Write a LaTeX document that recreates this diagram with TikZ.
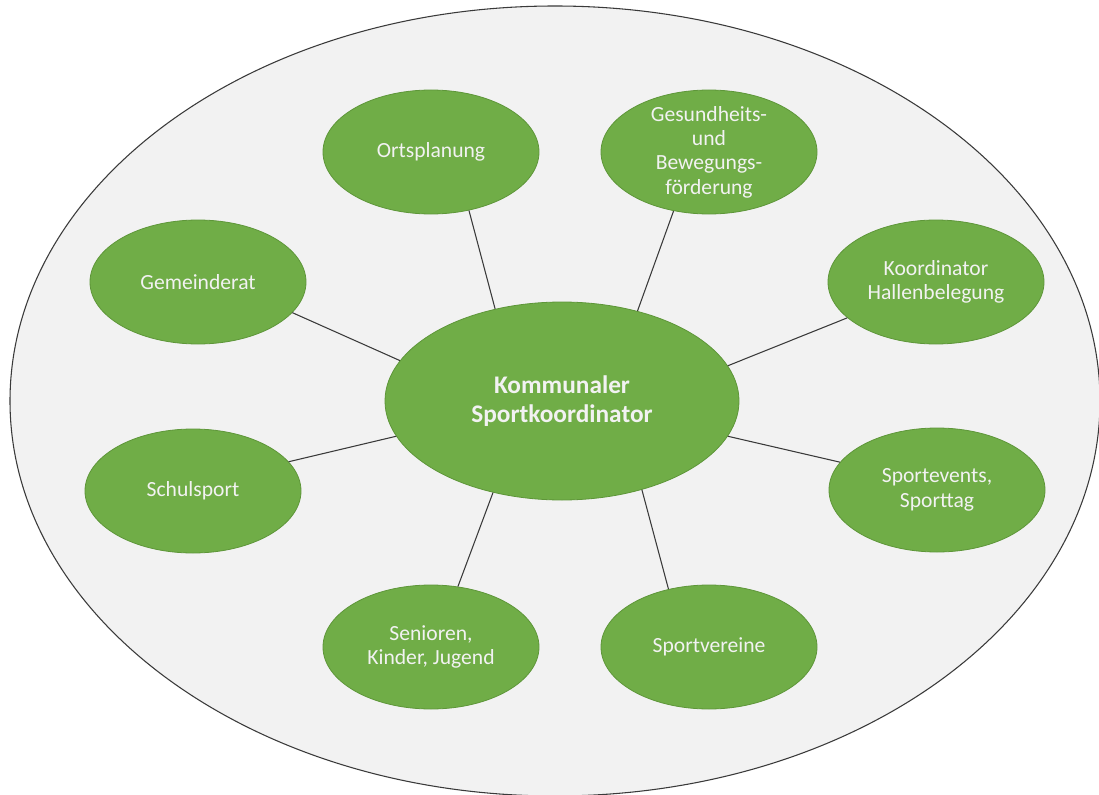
\documentclass[tikz,border=0pt]{standalone}
\usepackage{fontspec}
\setmainfont{Carlito}
\usetikzlibrary{shapes.geometric}
\definecolor{bubblegreen}{HTML}{70AD47}
\definecolor{bubbleedge}{HTML}{5E9639}
\definecolor{bgfill}{HTML}{F2F2F2}
\definecolor{linegray}{HTML}{3A3A3A}
\begin{document}
\begin{tikzpicture}[x=0.75pt,y=-0.75pt,
  outerbox/.style={ellipse,draw=linegray,line width=0.8pt,fill=bgfill,minimum width=817.5pt,minimum height=592.5pt,inner sep=0pt},
  bubble/.style={ellipse,draw=bubbleedge,line width=0.6pt,fill=bubblegreen,minimum width=162pt,minimum height=93pt,inner sep=0pt},
  hub/.style={ellipse,draw=bubbleedge,line width=0.6pt,fill=bubblegreen,minimum width=265.5pt,minimum height=148.5pt,inner sep=0pt},
  txt/.style={text=white!95!black,font=\fontsize{16.2}{18.3}\selectfont,align=center,inner sep=0pt},
  hubtxt/.style={text=white!95!black,font=\fontsize{19}{21.5}\selectfont\bfseries,align=center,inner sep=0pt},
  link/.style={draw=linegray,line width=0.8pt}]
\fill[white] (0,0) rectangle (1099,795);
\useasboundingbox (0,0) rectangle (1099,795);
\node[outerbox] (frame) at (555,401) {};
\node[hub,label={[hubtxt]center:Kommunaler\\Sportkoordinator}] (c) at (562,401) {};
\node[bubble,label={[txt]center:Ortsplanung}] (ort) at (431,152) {};
\node[bubble,label={[txt]center:Gesundheits-\\und\\Bewegungs-\\förderung}] (ges) at (709,152) {};
\node[bubble,label={[txt]center:Gemeinderat}] (gem) at (198,282) {};
\node[bubble,label={[txt]center:Koordinator\\Hallenbelegung}] (koo) at (936,282) {};
\node[bubble,label={[txt]center:Schulsport}] (sch) at (193,491) {};
\node[bubble,label={[txt]center:Sportevents,\\Sporttag}] (spe) at (937,490) {};
\node[bubble,label={[txt]center:Senioren,\\Kinder, Jugend}] (sen) at (431,647) {};
\node[bubble,label={[txt]center:Sportvereine}] (spv) at (709,647) {};
\draw[link] (c.126.2) -- (ort.-57.8);
\draw[link] (c.50.1) -- (ges.239.6);
\draw[link] (c.166.5) -- (gem.-18.8);
\draw[link] (c.12.6) -- (koo.202.2);
\draw[link] (c.192.2) -- (sch.17.4);
\draw[link] (c.-12.6) -- (spe.164.7);
\draw[link] (c.233.4) -- (sen.66.1);
\draw[link] (c.-48.7) -- (spv.125.8);
\end{tikzpicture}
\end{document}
